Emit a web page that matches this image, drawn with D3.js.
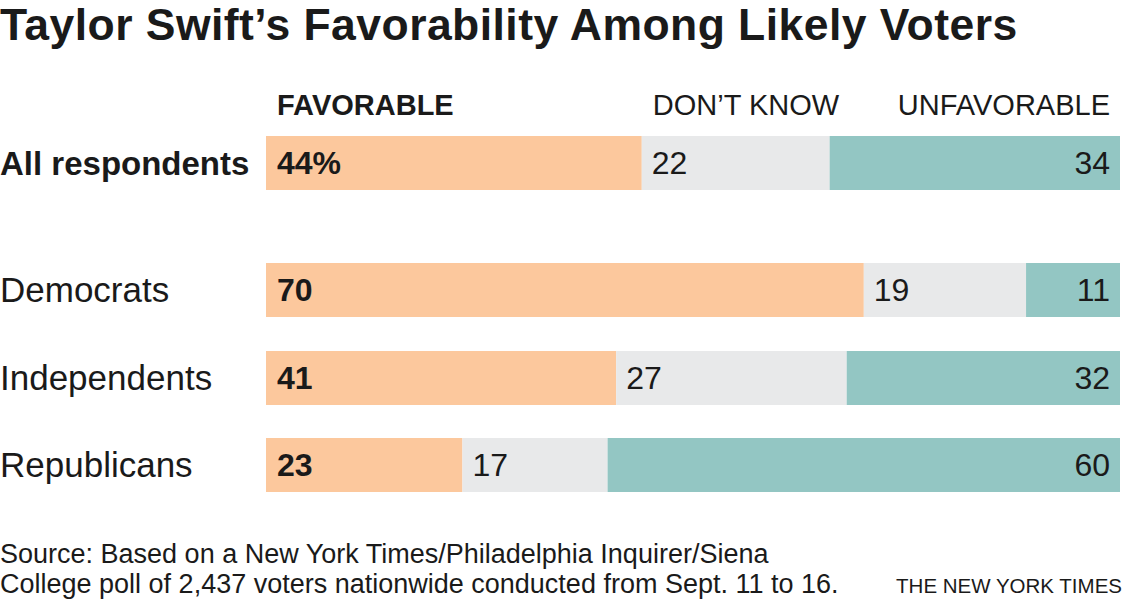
<!DOCTYPE html>
<html><head><meta charset="utf-8">
<script src="https://cdn.jsdelivr.net/npm/d3@7"></script>
<style>body{margin:0;background:#fff}svg{display:block}text{font-family:"Liberation Sans",Arial,Helvetica,sans-serif;fill:#1a1a1a}</style>
</head><body><svg id="c" width="1125" height="600"></svg>
<script>
const groups = ["All respondents", "Democrats", "Independents", "Republicans"];
const favorable = [44, 70, 41, 23];
const dontKnow = [22, 19, 27, 17];
const unfavorable = [34, 11, 32, 60];
const seriesNames = ["FAVORABLE", "DON’T KNOW", "UNFAVORABLE"];
const colors = ["#fcc89d", "#e8e9ea", "#93c6c3"];

const svg = d3.select("#c");
const x = d3.scaleLinear().domain([0, 100]).range([266, 1120]);
const yPos = d3.scaleOrdinal().domain(groups).range([136, 263, 351, 438]);
const barH = 54;

svg.append("text").attr("x", 0).attr("y", 40).attr("font-size", 44.5).attr("font-weight", "bold")
  .attr("letter-spacing", 0.45)
  .text("Taylor Swift’s Favorability Among Likely Voters");

const data = groups.map((g, i) => ({ g, vals: [favorable[i], dontKnow[i], unfavorable[i]] }));
const stack = d3.stack().keys([0, 1, 2]).value((d, k) => d.vals[k]);
const stacked = stack(data);

stacked.forEach((layer, k) => {
  svg.append("g").selectAll("rect").data(layer).join("rect")
    .attr("x", d => x(d[0])).attr("width", d => x(d[1]) - x(d[0]))
    .attr("y", d => yPos(d.data.g)).attr("height", barH).attr("fill", colors[k]);
});

// headers
svg.append("text").attr("x", x(0) + 11).attr("y", 115).attr("font-size", 29).attr("font-weight", "bold").text(seriesNames[0]);
svg.append("text").attr("x", x(favorable[0]) + 11).attr("y", 115).attr("font-size", 29).text(seriesNames[1]);
svg.append("text").attr("x", x(100) - 10).attr("y", 115).attr("font-size", 29).attr("text-anchor", "end").text(seriesNames[2]);

// row labels
data.forEach((d, i) => {
  const y0 = yPos(d.g);
  svg.append("text").attr("x", 0).attr("y", y0 + 39).attr("font-size", i === 0 ? 33 : 35)
    .attr("font-weight", i === 0 ? "bold" : "normal").text(d.g);
  svg.append("text").attr("x", x(0) + 11).attr("y", y0 + 38).attr("font-size", 32).attr("font-weight", "bold")
    .text(d.vals[0] + (i === 0 ? "%" : ""));
  svg.append("text").attr("x", x(d.vals[0]) + 10).attr("y", y0 + 38).attr("font-size", 32).text(d.vals[1]);
  svg.append("text").attr("x", x(100) - 10).attr("y", y0 + 38).attr("font-size", 32).attr("text-anchor", "end").text(d.vals[2]);
});

svg.append("text").attr("x", 0).attr("y", 563).attr("font-size", 27).text("Source: Based on a New York Times/Philadelphia Inquirer/Siena");
svg.append("text").attr("x", 0).attr("y", 593).attr("font-size", 27).text("College poll of 2,437 voters nationwide conducted from Sept. 11 to 16.");
svg.append("text").attr("x", 1122).attr("y", 593).attr("font-size", 20.5).attr("text-anchor", "end").text("THE NEW YORK TIMES");
</script></body></html>
